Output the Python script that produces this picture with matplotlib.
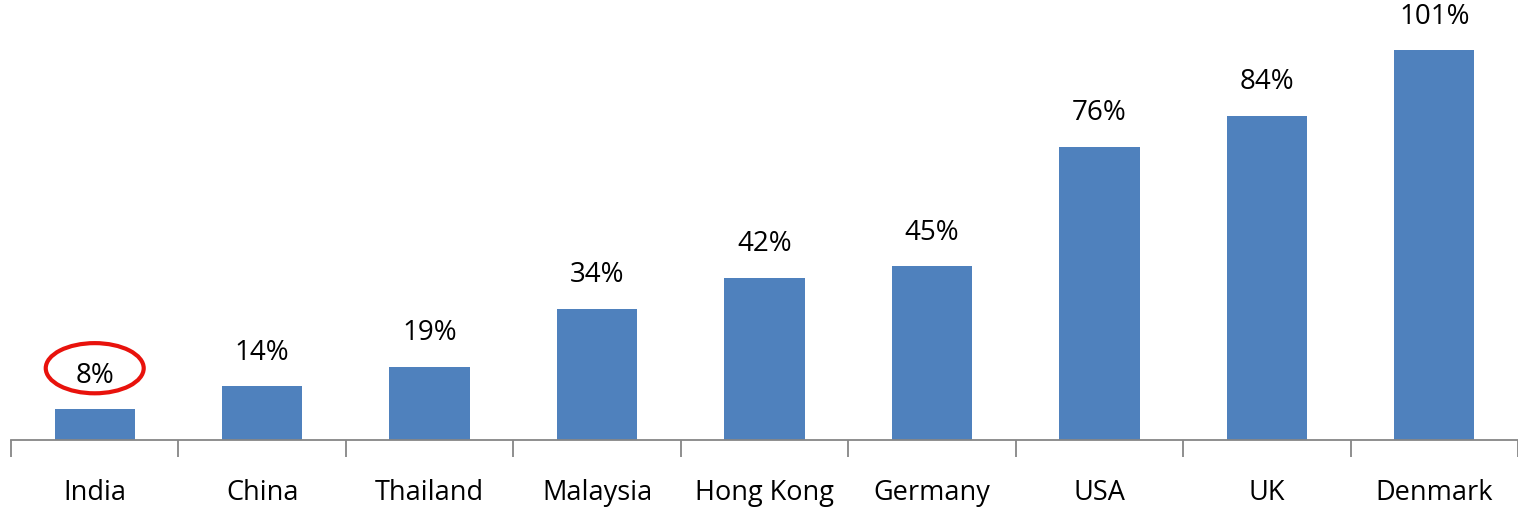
import matplotlib.pyplot as plt
import numpy as np
from matplotlib.patches import Ellipse

countries = ["India", "China", "Thailand", "Malaysia", "Hong Kong",
             "Germany", "USA", "UK", "Denmark"]
values = [8, 14, 19, 34, 42, 45, 76, 84, 101]

plt.rcParams["font.family"] = ["Open Sans", "DejaVu Sans"]

fig = plt.figure(figsize=(15.18, 5.07), dpi=100)
ax = fig.add_axes([11 / 1518, 67 / 507, 1507 / 1518, 440 / 507])

x = np.arange(len(countries))
bars = ax.bar(x, values, width=0.48, color="#4f81bd")

for xi, v in zip(x, values):
    ax.annotate(f"{v}%", (xi, v), xytext=(0, 14), textcoords="offset points",
                ha="center", va="bottom", fontsize=20)

# red highlight around the India label
ax.add_patch(Ellipse((0, 18.6), 0.585, 13, fill=False, edgecolor="#e8120c",
                     linewidth=3, clip_on=False))

ax.set_xlim(-0.5, len(countries) - 0.5)
ax.set_ylim(0, 114)
ax.set_xticks(x)
ax.set_xticklabels(countries, fontsize=19.5)
ax.tick_params(axis="x", length=0, pad=28)
ax.set_xticks(np.arange(len(countries) + 1) - 0.5, minor=True)
ax.tick_params(axis="x", which="minor", length=12, color="#868686", width=1.3)
ax.set_yticks([])
for side in ["top", "right", "left"]:
    ax.spines[side].set_visible(False)
ax.spines["bottom"].set_color("#868686")
ax.spines["bottom"].set_linewidth(1.3)

fig.savefig("out.png", dpi=100)
